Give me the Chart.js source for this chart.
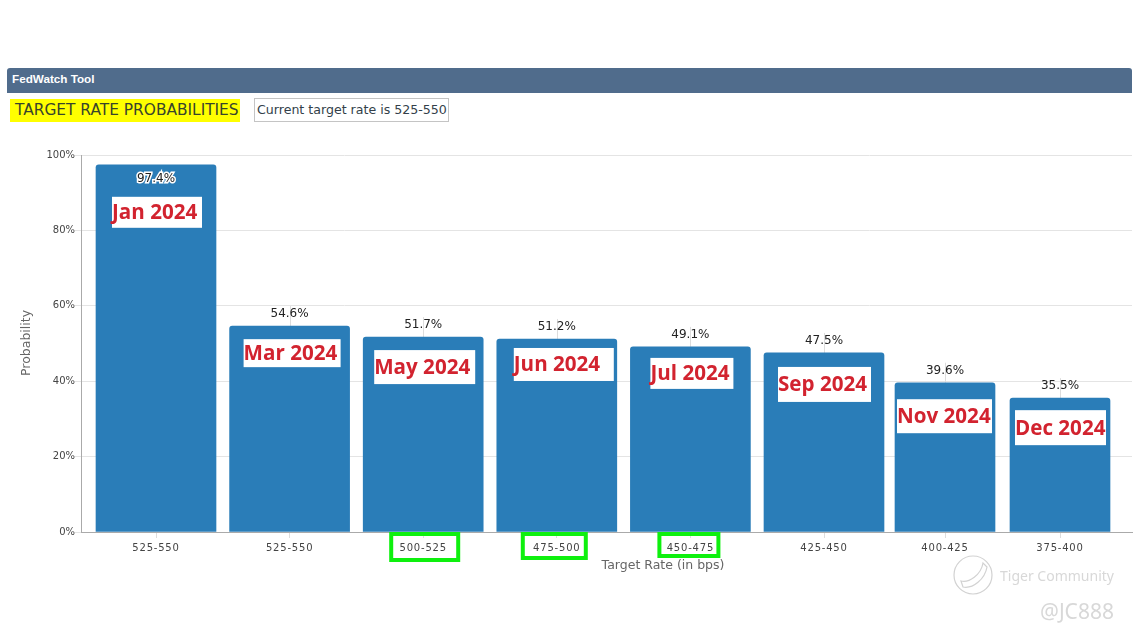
<!DOCTYPE html>
<html lang="en">
<head>
    <meta charset="UTF-8">
    <title>FedWatch Tool</title>
    <script src="https://cdn.jsdelivr.net/npm/chart.js"></script>
    <style>
        body {
            margin: 0;
            background: white;
            font-family: "DejaVu Sans", sans-serif;
        }

        #page {
            position: relative;
            width: 1137px;
            height: 638px;
            overflow: hidden;
        }

        #page div {
            position: absolute;
            white-space: nowrap;
            box-sizing: border-box;
        }

        #header {
            left: 7px;
            top: 68px;
            width: 1125px;
            height: 25px;
            padding: 4px 5px;
            background: #506c8c;
            border-radius: 3px 3px 0 0;
            color: white;
            font: bold 11.7px "Liberation Sans", Arial, sans-serif;
        }

        #title {
            left: 10px;
            top: 99px;
            width: 230px;
            height: 23px;
            padding: 2px 0 0 5px;
            background: #ffff00;
            color: #38442c;
            font-size: 15.4px;
        }

        #current {
            left: 254px;
            top: 98px;
            width: 195px;
            height: 24px;
            padding: 3px 0 0 2px;
            border: 1px solid #c4c4c4;
            color: #333f4a;
            font-size: 12.6px;
        }

        #tiger {
            left: 1000px;
            top: 566px;
            color: #d8d8d8;
            font: 14px "Noto Sans", sans-serif;
        }

        #handle {
            left: 1040px;
            top: 597px;
            color: #d8d8d8;
            font: 21px "Noto Sans", sans-serif;
        }

        #logo {
            position: absolute;
            left: 953px;
            top: 555px;
        }

        canvas {
            position: absolute;
            left: 0;
            top: 0;
        }
    </style>
</head>
<body>
    <div id="page">
        <div id="header">FedWatch Tool</div>
        <div id="title">TARGET RATE PROBABILITIES</div>
        <div id="current">Current target rate is 525-550</div>
        <canvas id="chart" width="1137" height="638"></canvas>
        <svg id="logo" width="40" height="40" fill="none" stroke="#d2d2d2" stroke-width="1.2">
            <circle cx="20" cy="20" r="19"></circle>
            <path d="M8 26 C16 28 28 20 30 8 L34 12 C32 24 20 34 10 32 Z"></path>
        </svg>
        <div id="tiger">Tiger Community</div>
        <div id="handle">@JC888</div>
    </div>

    <script>
        // Chart data
        const rateLabels = ['525-550', '525-550', '500-525', '475-500', '450-475', '425-450', '400-425', '375-400'];
        const probabilities = [97.4, 54.6, 51.7, 51.2, 49.1, 47.5, 39.6, 35.5];
        const meetingMonths = ['Jan 2024', 'Mar 2024', 'May 2024', 'Jun 2024', 'Jul 2024', 'Sep 2024', 'Nov 2024', 'Dec 2024'];

        // Category bands are not even in this picture: last two are squeezed
        const bandWeights = [133.6, 133.6, 133.6, 133.6, 133.6, 133.6, 108.4, 121.6];
        const bandLead = 8.2;
        const bandTail = 11.2;
        const narrowFrom = 6;

        // Month stickers, relative to the bar: [left from centre, top from bar top, width, height]
        const stickerOffsets = [
            [-44, 32, 90, 31], [-46, 13, 97, 28], [-49, 13, 101, 34], [-43, 9, 100, 33],
            [-40, 11, 83, 31], [-46, 14, 93, 35], [-48, 16.5, 95, 34], [-45, 12, 91, 35]
        ];

        // Green highlights round tick labels: [category index, left from tick, width, height]
        const highlightBoxes = [[2, -34, 71, 30], [3, -36, 67, 28], [4, -33, 63, 26]];

        // Category scale with bands of different width
        class BandScale extends Chart.CategoryScale {
            static id = 'band';
            static defaults = Chart.CategoryScale.defaults;

            getPixelForValue(value) {
                if (typeof value !== 'number') value = this.parse(value);
                if (value === null || value === undefined) return NaN;
                const total = bandLead + bandTail + bandWeights.reduce((a, b) => a + b, 0);
                let pos = bandLead + bandWeights[value] / 2;
                for (let i = 0; i < value; i++) pos += bandWeights[i];
                return this.left + this.width * pos / total;
            }

            // The rate labels are spaced out a little in the original
            drawLabels(chartArea) {
                this.ctx.save();
                this.ctx.letterSpacing = '0.8px';
                super.drawLabels(chartArea);
                this.ctx.restore();
            }
        }
        Chart.register(BandScale);

        // Short grey lines between each bar and its label
        const connectorPlugin = {
            id: 'connectors',
            beforeDatasetsDraw(chart) {
                const { ctx } = chart;
                ctx.save();
                ctx.strokeStyle = '#dddddd';
                ctx.lineWidth = 1;
                chart.data.datasets.forEach((ds, d) => {
                    chart.getDatasetMeta(d).data.forEach((bar, i) => {
                        if (ds.data[i] === null || probabilities[i] > 90) return;
                        const x = Math.round(bar.x) + 0.5;
                        ctx.beginPath();
                        ctx.moveTo(x, bar.y);
                        ctx.lineTo(x, bar.y - 20);
                        ctx.stroke();
                    });
                });
                ctx.restore();
            }
        };

        // Value labels, month stickers, highlights and axis titles
        const overlayPlugin = {
            id: 'overlay',
            afterDatasetsDraw(chart) {
                const { ctx, scales: { x } } = chart;
                ctx.save();
                ctx.textBaseline = 'middle';

                chart.data.datasets.forEach((ds, d) => {
                    chart.getDatasetMeta(d).data.forEach((bar, i) => {
                        if (ds.data[i] === null) return;
                        const text = probabilities[i].toFixed(1) + '%';
                        ctx.textAlign = 'center';
                        ctx.font = '12px "DejaVu Sans"';
                        if (probabilities[i] > 90) {
                            ctx.strokeStyle = 'white';
                            ctx.lineWidth = 3;
                            ctx.strokeText(text, bar.x, bar.y + 14);
                            ctx.fillStyle = '#222222';
                            ctx.fillText(text, bar.x, bar.y + 14);
                        } else {
                            ctx.fillStyle = '#222222';
                            ctx.fillText(text, bar.x, bar.y - 12);
                        }

                        const [left, top, w, h] = stickerOffsets[i];
                        ctx.fillStyle = 'white';
                        ctx.fillRect(bar.x + left, bar.y + top, w, h);
                        ctx.fillStyle = '#d2232f';
                        ctx.font = 'bold 20.6px "Open Sans"';
                        ctx.textAlign = 'left';
                        ctx.fillText(meetingMonths[i], bar.x + left, bar.y + top + h / 2 + 1);
                    });
                });

                ctx.strokeStyle = '#0ef00e';
                ctx.lineWidth = 4;
                highlightBoxes.forEach(([index, left, w, h]) => {
                    ctx.strokeRect(x.getPixelForTick(index) + left + 2, 534, w - 4, h - 4);
                });

                ctx.textAlign = 'center';
                ctx.fillStyle = '#666666';
                ctx.font = '12.5px "DejaVu Sans"';
                ctx.fillText('Target Rate (in bps)', 663, 566);
                ctx.translate(27, 343);
                ctx.rotate(-Math.PI / 2);
                ctx.fillText('Probability', 0, 0);
                ctx.restore();
            }
        };

        new Chart(document.getElementById('chart'), {
            type: 'bar',
            data: {
                labels: rateLabels,
                datasets: [
                    {
                        data: probabilities.map((v, i) => (i < narrowFrom ? v : null)),
                        barThickness: 120
                    },
                    {
                        data: probabilities.map((v, i) => (i >= narrowFrom ? v : null)),
                        barThickness: 100
                    }
                ]
            },
            options: {
                responsive: false,
                animation: false,
                devicePixelRatio: 1,
                grouped: false,
                backgroundColor: '#2a7db8',
                borderRadius: { topLeft: 3, topRight: 3 },
                borderSkipped: 'bottom',
                layout: { padding: { top: 155, right: 5, left: 0, bottom: 0 } },
                plugins: {
                    legend: { display: false },
                    title: { display: false },
                    tooltip: { enabled: false }
                },
                scales: {
                    x: {
                        type: 'band',
                        offset: true,
                        afterFit(scale) { scale.height = 106; },
                        grid: {
                            offset: false,
                            drawOnChartArea: false,
                            tickLength: 6,
                            color: '#dddddd'
                        },
                        border: { color: '#aaaaaa' },
                        ticks: {
                            padding: 4,
                            maxRotation: 0,
                            autoSkip: false,
                            color: '#444444',
                            font: { family: '"DejaVu Sans"', size: 10 }
                        }
                    },
                    y: {
                        min: 0,
                        max: 100,
                        afterFit(scale) { scale.width = 81; },
                        grid: { color: '#e4e4e4', tickLength: 6 },
                        border: { color: '#aaaaaa' },
                        ticks: {
                            stepSize: 20,
                            padding: 0,
                            color: '#444444',
                            font: { family: '"DejaVu Sans"', size: 10 },
                            callback: (value) => value + '%'
                        }
                    }
                }
            },
            plugins: [connectorPlugin, overlayPlugin]
        });
    </script>
</body>
</html>
